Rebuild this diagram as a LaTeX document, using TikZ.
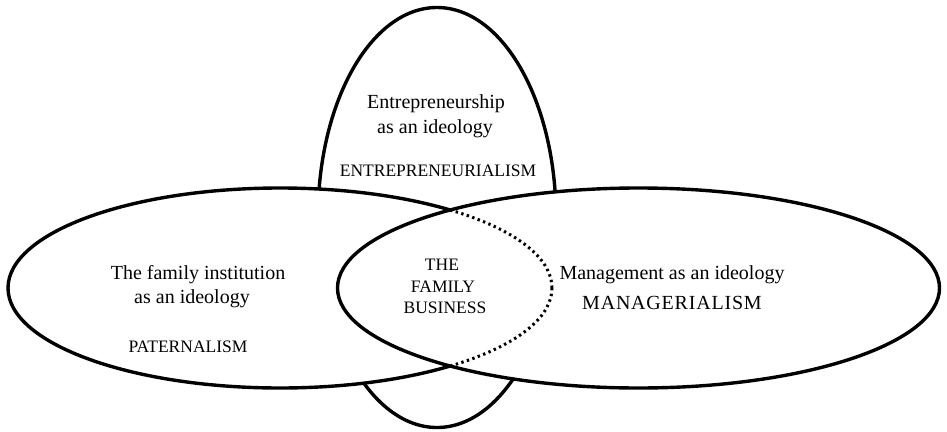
\documentclass[tikz,border=0pt]{standalone}
\usepackage{fontspec}
\setmainfont{Liberation Serif}
\begin{document}
\begin{tikzpicture}[x=1pt,y=-1pt,
  outline/.style={line width=3.4pt},
  dotline/.style={line width=3pt,dash pattern=on 2.4pt off 3.4pt},
  lbl/.style={anchor=base,inner sep=0pt,font=\fontsize{20}{24}\selectfont},
  caps/.style={anchor=base,inner sep=0pt,font=\fontsize{17.5}{21}\selectfont}]
\useasboundingbox (0,0) rectangle (947,431);

% entrepreneurship ellipse (only its ends show outside the other two)
\draw[outline] (437,217.5) ellipse [x radius=119, y radius=210];

% family institution ellipse
\draw[outline,fill=white] (280,288) ellipse [x radius=272, y radius=100];

% management ellipse hides the inner part of the family ellipse ...
\fill[white] (638.5,288) ellipse [x radius=301, y radius=100];
% ... which is shown dotted where it overlaps
\begin{scope}
  \clip (638.5,288) ellipse [x radius=301, y radius=100];
  \draw[dotline] (280,288) ellipse [x radius=272, y radius=100];
\end{scope}
\draw[outline] (638.5,288) ellipse [x radius=301, y radius=100];

% labels
\node[lbl] (e1) at (436,108) {Entrepreneurship};
\node[lbl] (e2) at (435,133) {as an ideology};
\node[caps] (e3) at (438,176) {ENTREPRENEURIALISM};

\node[caps] (b1) at (442,270) {THE};
\node[caps] (b2) at (443,292) {FAMILY};
\node[caps] (b3) at (445,313) {BUSINESS};

\node[lbl] (f1) at (198,279) {The family institution};
\node[lbl] (f2) at (192,303) {as an ideology};
\node[caps] (f3) at (188,352) {PATERNALISM};

\node[lbl] (m1) at (672,279) {Management as an ideology};
\node[lbl,font=\fontsize{20}{24}\selectfont\addfontfeature{LetterSpace=4}] (m2) at (672,309) {MANAGERIALISM};
\end{tikzpicture}
\end{document}
